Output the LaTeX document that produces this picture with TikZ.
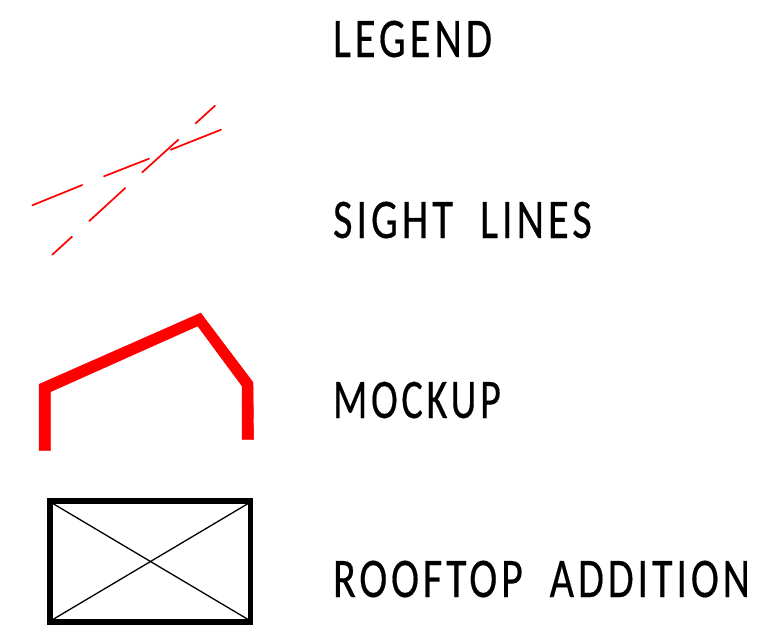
\documentclass[tikz,border=0pt]{standalone}
\usepackage{fontspec}
\newfontfamily\legendfont[FakeStretch=0.76,LetterSpace=7,WordSpace=2.0,FakeBold=0.3]{Carlito}
\tikzset{
  sight/.style={draw=red,line width=1.7pt,line cap=round},
  mock/.style={fill=red,draw=red,line width=0.4pt},
  roofbox/.style={draw=black,line width=5.5pt,miter limit=10},
  roofx/.style={draw=black,line width=1.3pt},
  label/.style={anchor=base west,inner sep=0pt,outer sep=0pt,font=\legendfont\fontsize{56}{56}\selectfont}
}
\begin{document}
\begin{tikzpicture}[x=1pt,y=-1pt]
\useasboundingbox (0,0) rectangle (762,632);
\fill[white] (0,0) rectangle (762,632);
\node[label] (legend) at (333,57) {LEGEND};
\node[label] (sightlabel) at (333,238) {SIGHT LINES};
\node[label,xscale=0.945] (mocklabel) at (333,418) {MOCKUP};
\node[label,xscale=0.99] (rooflabel) at (333,597) {ROOFTOP ADDITION};
\draw[sight] (195.7,123.3) -- (215,105.7);
\draw[sight] (221,129.7) -- (170.7,149.7);
\draw[sight] (178.3,139.7) -- (142.3,172.3);
\draw[sight] (149,158.7) -- (104,176.3);
\draw[sight] (82.3,185) -- (32.3,205.3);
\draw[sight] (125.3,188) -- (89.3,221);
\draw[sight] (72,236.7) -- (52.3,254.7);
\path[mock] (39,450.7) -- (39,384.3) -- (200.7,313) -- (253,382.3) -- (253.7,439.7) -- (242,439.7) -- (242,386) -- (197.7,326) -- (50.7,391.7) -- (50.7,450.7) -- cycle;
\draw[roofbox] (50,501.2) rectangle (250.6,621.8);
\draw[roofx] (52,503) -- (249,620);
\draw[roofx] (249,503) -- (52,620);
\end{tikzpicture}
\end{document}
